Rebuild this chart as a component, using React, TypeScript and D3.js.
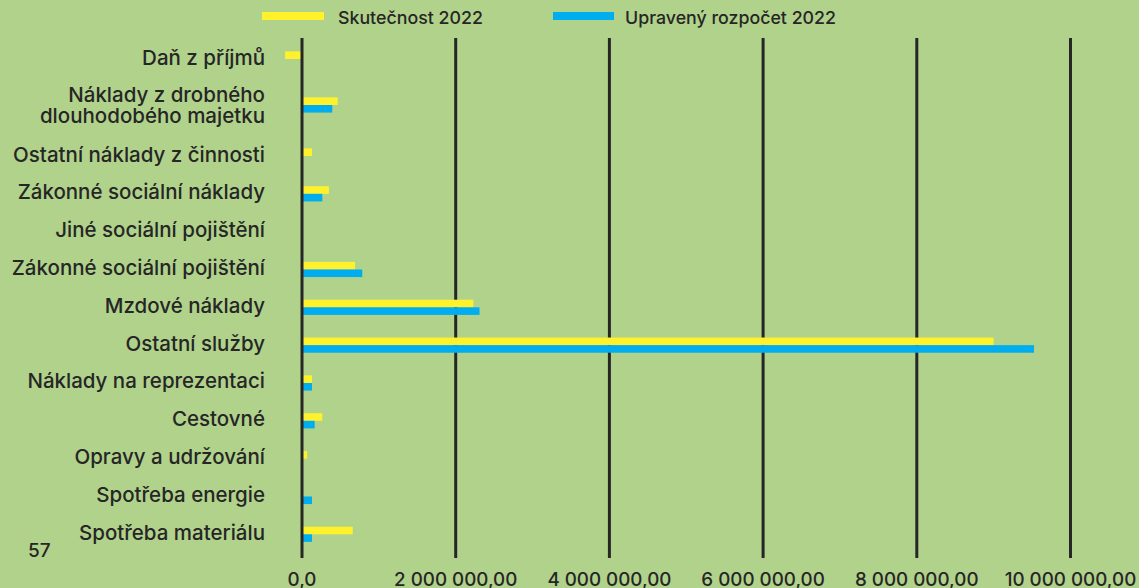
import * as d3 from "d3"

// categories top to bottom, as in the report
const categories = [
  "Daň z příjmů",
  "Náklady z drobného\ndlouhodobého majetku",
  "Ostatní náklady z činnosti",
  "Zákonné sociální náklady",
  "Jiné sociální pojištění",
  "Zákonné sociální pojištění",
  "Mzdové náklady",
  "Ostatní služby",
  "Náklady na reprezentaci",
  "Cestovné",
  "Opravy a udržování",
  "Spotřeba energie",
  "Spotřeba materiálu",
]

const skutecnost = [-220000, 464000, 130000, 350000, 0, 690000, 2230000, 9000000, 130000, 264000, 65000, 0, 660000]
const rozpocet = [0, 394000, 0, 264000, 0, 784000, 2310000, 9525000, 130000, 165000, 0, 130000, 130000]

const tickValues = [0, 2000000, 4000000, 6000000, 8000000, 10000000]
const tickLabels = ["0,0", "2 000 000,00", "4 000 000,00", "6 000 000,00", "8 000 000,00", "10 000 000,00"]

const seriesNames = ["Skutečnost 2022", "Upravený rozpočet 2022"]

const W = 1139
const H = 588
const BG = "#b1d28b"
const INK = "#262626"
const YELLOW = "#fff22d"
const BLUE = "#00aeef"
const FONT = "Inter, 'Noto Sans', sans-serif"

export default function App() {
  const x = d3.scaleLinear().domain([0, 10000000]).range([302, 1070.5])
  // the two-line row takes more room, so rows are not evenly spaced at the top
  const y = d3.scaleLinear().domain([0, 1, 2, categories.length - 1]).range([59, 105, 156, 534.3])
  const barH = 7.6
  const gridTop = 38
  const gridBottom = 558
  const lineGap = 20.5

  return (
    <>
      <style>{`body{margin:0}`}</style>
      <svg width={W} height={H} style={{ display: "block" }} fontFamily={FONT}>
        <rect width={W} height={H} fill={BG} />

        {/* legend */}
        <g fontSize={17.8} fontWeight={500} fill={INK}>
          <rect x={262} y={12} width={62} height={8} fill={YELLOW} />
          <text x={338} y={23.5}>{seriesNames[0]}</text>
          <rect x={553} y={12} width={61} height={8} fill={BLUE} />
          <text x={625} y={23.5}>{seriesNames[1]}</text>
        </g>

        {/* grid lines (except zero, drawn above bars) */}
        {tickValues.filter((t) => t !== 0).map((t) => (
          <line key={t} x1={x(t)} x2={x(t)} y1={gridTop} y2={gridBottom} stroke={INK} strokeWidth={3} />
        ))}

        {/* bars */}
        {categories.map((c, i) => {
          const cy = y(i)
          const a = skutecnost[i]
          const b = rozpocet[i]
          return (
            <g key={c}>
              {a !== 0 && (
                <rect x={Math.min(x(0), x(a))} y={cy - barH} width={Math.abs(x(a) - x(0))} height={barH} fill={YELLOW} />
              )}
              {b !== 0 && (
                <rect x={Math.min(x(0), x(b))} y={cy} width={Math.abs(x(b) - x(0))} height={barH} fill={BLUE} />
              )}
            </g>
          )
        })}

        <line x1={x(0)} x2={x(0)} y1={gridTop} y2={gridBottom} stroke={INK} strokeWidth={3} />

        {/* category labels */}
        <g fontSize={20.5} fontWeight={500} fill={INK} textAnchor="end">
          {categories.map((c, i) => {
            const lines = c.split("\n")
            const cy = y(i)
            return lines.map((l, j) => (
              <text key={c + j} x={265} y={cy + 5.5 - (lines.length - 1) * 8.2 + j * lineGap}>
                {l}
              </text>
            ))
          })}
        </g>

        {/* x tick labels */}
        <g fontSize={18.8} fontWeight={500} fill={INK} textAnchor="middle">
          {tickValues.map((t, i) => (
            <text key={t} x={x(t)} y={586}>
              {tickLabels[i]}
            </text>
          ))}
        </g>

        {/* page number */}
        <text x={28} y={557} fontSize={19} fontWeight={500} fill={INK}>
          57
        </text>
      </svg>
    </>
  )
}
